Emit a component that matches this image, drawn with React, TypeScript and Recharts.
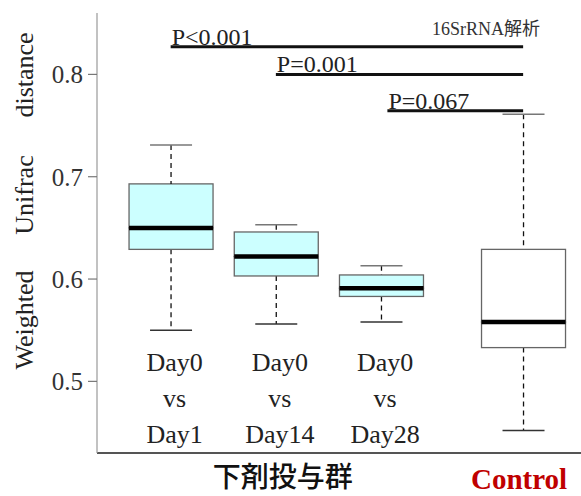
import React from 'react';
import { ComposedChart, Bar, XAxis, YAxis, ReferenceLine } from 'recharts';

// ---------------- data ----------------
const categories = ['Day0 vs Day1', 'Day0 vs Day14', 'Day0 vs Day28', 'Control'];
const positions = [1, 2, 3, 4.35];
const groups = ['laxative', 'laxative', 'laxative', 'control'];
const groupTitle = '下剤投与群';

const minValues = [0.550, 0.556, 0.558, 0.452];
const q1Values = [0.629, 0.603, 0.583, 0.533];
const medianValues = [0.650, 0.622, 0.591, 0.558];
const q3Values = [0.693, 0.646, 0.604, 0.629];
const maxValues = [0.731, 0.653, 0.613, 0.761];

const yTicks = [0.5, 0.6, 0.7, 0.8];
const yLabelWords = ['Weighted', 'Unifrac', 'distance'];
const annotationText = '16SrRNA解析';

const comparisonLabels = ['P<0.001', 'P=0.001', 'P=0.067'];
const comparisonFrom = [1, 2, 3.06];
const comparisonTo = [4.35, 4.35, 4.35];
const comparisonLevel = [0.827, 0.8, 0.7645];

// ---------------- styling ----------------
const SERIF = '"Liberation Serif", "Times New Roman", "Noto Sans CJK JP", serif';
const CJK = '"Noto Sans CJK JP", "Noto Sans CJK SC", sans-serif';
const TEXT = '#222';

const rows = categories.map((name, i) => ({
  name,
  x: positions[i],
  group: groups[i],
  base: minValues[i],
  lowWhisker: q1Values[i] - minValues[i],
  lowBox: medianValues[i] - q1Values[i],
  highBox: q3Values[i] - medianValues[i],
  highWhisker: maxValues[i] - q3Values[i],
}));

const boxFill = (g: string) => (g === 'control' ? '#ffffff' : '#ccffff');

const Empty = () => <g />;

const LowWhisker = (p: any) => {
  const cx = p.x + p.width / 2;
  const half = p.width / 4;
  const yb = p.y + p.height;
  return (
    <g>
      <line x1={cx} x2={cx} y1={p.y} y2={yb} stroke="#111" strokeWidth={1.3} strokeDasharray="5 4" />
      <line x1={cx - half} x2={cx + half} y1={yb} y2={yb} stroke="#333" strokeWidth={1.6} />
    </g>
  );
};

const HighWhisker = (p: any) => {
  const cx = p.x + p.width / 2;
  const half = p.width / 4;
  return (
    <g>
      <line x1={cx} x2={cx} y1={p.y} y2={p.y + p.height} stroke="#111" strokeWidth={1.3} strokeDasharray="5 4" />
      <line x1={cx - half} x2={cx + half} y1={p.y} y2={p.y} stroke="#777" strokeWidth={1.6} />
    </g>
  );
};

const LowBox = (p: any) => (
  <rect x={p.x} y={p.y} width={p.width} height={p.height} fill={boxFill(p.payload.group)} stroke="#666" strokeWidth={1.3} />
);

const HighBox = (p: any) => {
  const yb = p.y + p.height;
  return (
    <g>
      <rect x={p.x} y={p.y} width={p.width} height={p.height} fill={boxFill(p.payload.group)} stroke="#666" strokeWidth={1.3} />
      <line x1={p.x} x2={p.x + p.width} y1={yb} y2={yb} stroke="#000" strokeWidth={4.5} />
    </g>
  );
};

const XTick = (props: any) => {
  const { x, y, payload } = props;
  const i = positions.indexOf(payload.value);
  if (i < 0) return <g />;
  if (groups[i] === 'control') {
    return (
      <text x={x - 4} y={y + 36} textAnchor="middle" fontFamily={SERIF} fontWeight="bold" fontSize={29} fill="#c00000">
        {categories[i]}
      </text>
    );
  }
  const lines = categories[i].split(' ');
  const groupIdx = groups.map((g, k) => (g === groups[i] ? k : -1)).filter((k) => k >= 0);
  const middle = groupIdx[Math.floor(groupIdx.length / 2)];
  return (
    <g>
      {lines.map((l, k) => (
        <text key={k} x={x + 4} y={y - 82 + k * 36} textAnchor="middle" fontFamily={SERIF} fontSize={26} fill={TEXT}>
          {l}
        </text>
      ))}
      {i === middle && (
        <text x={x + 7} y={y + 34} textAnchor="middle" fontFamily={CJK} fontWeight={500} fontSize={28} fill="#111">
          {groupTitle}
        </text>
      )}
    </g>
  );
};

const wordCenters = [320, 195, 75];
const YLabel = () => (
  <g>
    {yLabelWords.map((w, k) => (
      <text
        key={w}
        transform={`translate(33, ${wordCenters[k]}) rotate(-90)`}
        textAnchor="middle"
        fontFamily={SERIF}
        fontSize={26}
        fill={TEXT}
      >
        {w}
      </text>
    ))}
    <text x={432} y={35} fontFamily={SERIF} fontSize={18} fill="#333">
      {annotationText}
    </text>
  </g>
);

const makeCompLabel = (text: string) => (props: any) => {
  const vb = props.viewBox || {};
  return (
    <text x={vb.x + 1} y={vb.y - 2} fontFamily={SERIF} fontSize={24} fill={TEXT}>
      {text}
    </text>
  );
};

export default function App() {
  return (
    <div style={{ position: 'absolute', left: 0, top: 0, width: 581, height: 496, background: '#fff' }}>
      <ComposedChart
        width={581}
        height={496}
        data={rows}
        margin={{ top: 13, right: 0, bottom: 0, left: 0 }}
      >
        <XAxis
          dataKey="x"
          type="number"
          domain={[0.3, 4.9]}
          allowDataOverflow
          ticks={positions}
          interval={0}
          tickLine={false}
          tickSize={0}
          tickMargin={0}
          height={43}
          axisLine={{ stroke: '#555', strokeWidth: 2 }}
          tick={<XTick />}
        />
        <YAxis
          type="number"
          domain={[0.43, 0.86]}
          allowDataOverflow
          ticks={yTicks}
          interval={0}
          width={97}
          tickSize={9}
          tickMargin={5}
          axisLine={{ stroke: '#999', strokeWidth: 1.2 }}
          tickLine={{ stroke: '#777', strokeWidth: 1.2 }}
          tick={{ fontFamily: SERIF, fontSize: 25, fill: '#333' }}
          tickFormatter={(v: number) => v.toFixed(1)}
          label={<YLabel />}
        />
        <Bar dataKey="base" stackId="box" barSize={84} shape={<Empty />} isAnimationActive={false} />
        <Bar dataKey="lowWhisker" stackId="box" barSize={84} shape={<LowWhisker />} isAnimationActive={false} />
        <Bar dataKey="lowBox" stackId="box" barSize={84} shape={<LowBox />} isAnimationActive={false} />
        <Bar dataKey="highBox" stackId="box" barSize={84} shape={<HighBox />} isAnimationActive={false} />
        <Bar dataKey="highWhisker" stackId="box" barSize={84} shape={<HighWhisker />} isAnimationActive={false} />
        {comparisonLabels.map((lab, k) => (
          <ReferenceLine
            key={lab}
            segment={[
              { x: comparisonFrom[k], y: comparisonLevel[k] },
              { x: comparisonTo[k], y: comparisonLevel[k] },
            ]}
            stroke="#111"
            strokeWidth={3}
            ifOverflow="visible"
            label={makeCompLabel(lab)}
          />
        ))}
      </ComposedChart>
    </div>
  );
}
